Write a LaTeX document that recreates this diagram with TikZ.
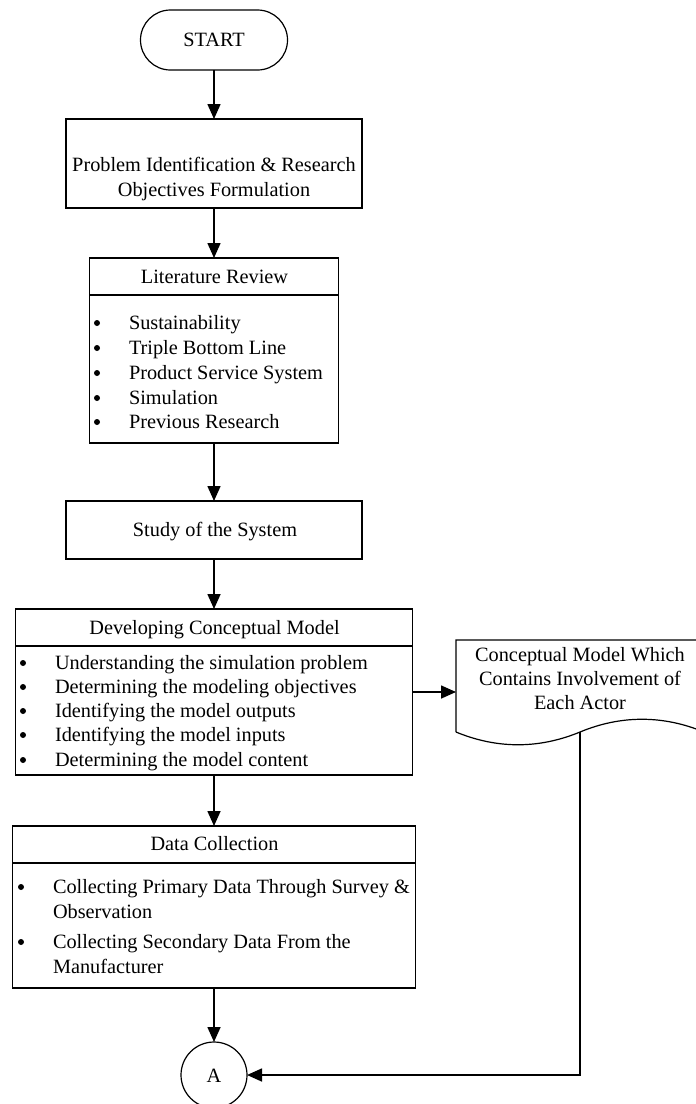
\documentclass[tikz,border=0pt]{standalone}
\usepackage{fontspec}
\setmainfont{Liberation Serif}
\usetikzlibrary{arrows.meta,shapes.misc}
\begin{document}
\begin{tikzpicture}[x=1pt,y=-1pt,
  every node/.style={font=\fontsize{20.3pt}{24pt}\selectfont, inner sep=0pt, outer sep=0pt},
  box/.style={draw, line width=1.2pt, rectangle},
  arr/.style={line width=1.6pt, -{Triangle[length=15pt,width=13pt]}},
  txt/.style={anchor=base},
  itm/.style={anchor=base west},
  bul/.style={circle, fill=black, minimum size=6pt},
  div/.style={line width=1.2pt}]
\clip (0,0) rectangle (696,1104);
\fill[white] (0,0) rectangle (696,1104);

% START
\node[draw, line width=1.2pt, rounded rectangle, minimum width=147pt, minimum height=60pt] (start) at (214,40) {};
\node[txt] (starttxt) at (214,46) {START};

% Problem
\node[box, minimum width=296pt, minimum height=89pt] (prob) at (214,163.5) {};
\node[txt] (prob1) at (214,171) {Problem Identification \& Research};
\node[txt] (prob2) at (214,196) {Objectives Formulation};

% Literature Review
\node[box, minimum width=249pt, minimum height=185pt] (lit) at (214,350.5) {};
\draw[div] (lit.west |- 0,295) -- (lit.east |- 0,295);
\node[txt] (littitle) at (214.5,283) {Literature Review};
\node[bul] (lb1) at (97,323) {};
\node[itm] (li1) at (129,329) {Sustainability};
\node[bul] (lb2) at (97,348) {};
\node[itm] (li2) at (129,354) {Triple Bottom Line};
\node[bul] (lb3) at (97,373) {};
\node[itm] (li3) at (129,379) {Product Service System};
\node[bul] (lb4) at (97,398) {};
\node[itm] (li4) at (129,404) {Simulation};
\node[bul] (lb5) at (97,422) {};
\node[itm] (li5) at (129,428) {Previous Research};

% Study
\node[box, minimum width=296pt, minimum height=58pt] (study) at (214,530) {};
\node[txt] (studytxt) at (215,536) {Study of the System};

% Developing Conceptual Model
\node[box, minimum width=397pt, minimum height=166pt] (dev) at (214,692) {};
\draw[div] (dev.west |- 0,646) -- (dev.east |- 0,646);
\node[txt] (devtitle) at (214.5,634) {Developing Conceptual Model};
\node[bul] (db1) at (23,663) {};
\node[itm] (di1) at (55,669) {Understanding the simulation problem};
\node[bul] (db2) at (23,687) {};
\node[itm] (di2) at (55,693) {Determining the modeling objectives};
\node[bul] (db3) at (23,711) {};
\node[itm] (di3) at (55,717) {Identifying the model outputs};
\node[bul] (db4) at (23,735) {};
\node[itm] (di4) at (55,741) {Identifying the model inputs};
\node[bul] (db5) at (23,760) {};
\node[itm] (di5) at (55,766) {Determining the model content};

% Data Collection
\node[box, minimum width=403pt, minimum height=162pt] (data) at (214,907) {};
\draw[div] (data.west |- 0,863) -- (data.east |- 0,863);
\node[txt] (datatitle) at (214.5,850) {Data Collection};
\node[bul] (cb1) at (21,887) {};
\node[itm] (ci1) at (53,893) {Collecting Primary Data Through Survey \&};
\node[itm] (ci1b) at (53,918) {Observation};
\node[bul] (cb2) at (21,942) {};
\node[itm] (ci2) at (53,948) {Collecting Secondary Data From the};
\node[itm] (ci2b) at (53,973) {Manufacturer};

% Connector A
\node[draw, line width=1.2pt, circle, minimum size=66pt] (A) at (214,1075) {};
\node[txt] (Atxt) at (214,1082) {A};

% Document shape
\node[minimum width=248pt, minimum height=92pt] (doc) at (580,686) {};
\draw[line width=1.2pt] (doc.south west) -- (doc.north west) -- (doc.north east) -- (doc.south east)
  .. controls (663,715) and (621,715) .. (doc.south)
  .. controls (539,749) and (497,749) .. (doc.south west);
\node[txt] (doc1) at (580,661) {Conceptual Model Which};
\node[txt] (doc2) at (580,685) {Contains Involvement of};
\node[txt] (doc3) at (580,709) {Each Actor};

% Connectors
\draw[arr] (start.south -| prob.north) -- (prob.north);
\draw[arr] (prob.south) -- (lit.north);
\draw[arr] (lit.south) -- (study.north);
\draw[arr] (study.south) -- (dev.north);
\draw[arr] (dev.south) -- (data.north);
\draw[arr] (data.south) -- (A.north);
\draw[arr] (dev.east) -- (dev.east -| doc.west);
\draw[arr] (doc.south) |- (A.east);
\end{tikzpicture}
\end{document}
